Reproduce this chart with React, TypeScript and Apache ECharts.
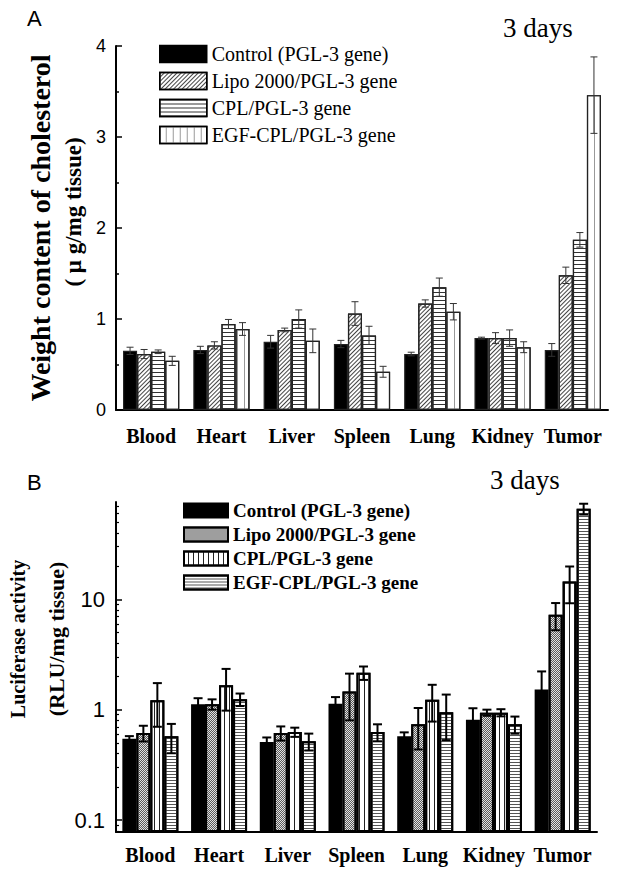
import React, { useEffect, useRef } from 'react';
import * as echarts from 'echarts';

// ---------- data ----------
const categories = ['Blood', 'Heart', 'Liver', 'Spleen', 'Lung', 'Kidney', 'Tumor'];
const groupNames = ['Control (PGL-3 gene)', 'Lipo 2000/PGL-3 gene', 'CPL/PGL-3 gene', 'EGF-CPL/PGL-3 gene'];

// Panel A: weight content of cholesterol (μg/mg tissue)
const cholControl = [0.65, 0.66, 0.75, 0.725, 0.615, 0.79, 0.66];
const cholControlErr = [0.04, 0.04, 0.07, 0.04, 0.02, 0.01, 0.07];
const cholLipo = [0.615, 0.71, 0.88, 1.06, 1.17, 0.79, 1.48];
const cholLipoErr = [0.05, 0.04, 0.02, 0.13, 0.04, 0.06, 0.09];
const cholCPL = [0.64, 0.945, 1.0, 0.82, 1.35, 0.79, 1.87];
const cholCPLErr = [0.02, 0.05, 0.1, 0.1, 0.1, 0.09, 0.08];
const cholEGF = [0.54, 0.89, 0.76, 0.42, 1.08, 0.69, 3.46];
const cholEGFErr = [0.05, 0.07, 0.13, 0.06, 0.09, 0.06, 0.42];

// Panel B: luciferase activity (RLU/mg tissue)
const lucControl = [0.546, 1.12, 0.51, 1.13, 0.573, 0.81, 1.52];
const lucControlErr = [0.03, 0.15, 0.05, 0.17, 0.05, 0.22, 0.7];
const lucLipo = [0.615, 1.12, 0.615, 1.46, 0.736, 0.94, 7.24];
const lucLipoErr = [0.1, 0.12, 0.09, 0.66, 0.3, 0.06, 2.0];
const lucCPL = [1.22, 1.66, 0.627, 2.16, 1.23, 0.94, 14.5];
const lucCPLErr = [0.52, 0.68, 0.06, 0.3, 0.45, 0.07, 5.3];
const lucEGF = [0.573, 1.24, 0.517, 0.627, 0.95, 0.736, 65.9];
const lucEGFErr = [0.17, 0.16, 0.09, 0.11, 0.42, 0.13, 7.4];

const yTicksA = [0, 1, 2, 3, 4];
const yLabelsB = [0.1, 1, 10];
const yMinorTicksB = [0.08, 0.09, 0.2, 0.3, 0.4, 0.5, 0.6, 0.7, 0.8, 0.9, 2, 3, 4, 5, 6, 7, 8, 9, 20, 30, 40, 50, 60, 70];

const SERIF = '"Liberation Serif", "Times New Roman", serif';
const SANS = '"Liberation Sans", Arial, sans-serif';

// ---------- helpers ----------
function errSeries(s: number, vals: number[], errs: number[], gapFrac: number, color: string, lw: number, capW: number) {
  return {
    type: 'custom',
    name: 'err' + s,
    silent: true,
    z: 10,
    data: vals.map((v, i) => [i, v, v - errs[i], v + errs[i]]),
    encode: { x: 0, y: [1, 2, 3] },
    renderItem: (params: any, api: any) => {
      const i = api.value(0);
      const c0 = api.coord([0, api.value(1)]);
      const c1 = api.coord([1, api.value(1)]);
      const band = c1[0] - c0[0];
      const c = api.coord([i, api.value(1)]);
      const groupW = band * (1 - gapFrac);
      const bw = groupW / 4;
      const x = c[0] - groupW / 2 + bw * (s + 0.5);
      const top = api.coord([i, api.value(3)])[1];
      const bot = api.coord([i, api.value(2)])[1];
      const st = { stroke: color, lineWidth: lw };
      return {
        type: 'group',
        children: [
          { type: 'line', shape: { x1: x, y1: top, x2: x, y2: bot }, style: st },
          { type: 'line', shape: { x1: x - capW / 2, y1: top, x2: x + capW / 2, y2: top }, style: st },
          { type: 'line', shape: { x1: x - capW / 2, y1: bot, x2: x + capW / 2, y2: bot }, style: st },
        ],
      };
    },
  };
}

const stylesA: any[] = [
  { color: '#000' },
  { color: '#fff', decal: { symbol: 'rect', symbolSize: 1, color: '#444', dashArrayX: [1, 0], dashArrayY: [1, 2], rotation: -Math.PI / 4 } },
  { color: '#fff', decal: { symbol: 'rect', symbolSize: 1, color: '#333', dashArrayX: [1, 0], dashArrayY: [1, 3], rotation: 0 } },
  { color: '#fff', decal: { symbol: 'rect', symbolSize: 1, color: '#999', dashArrayX: [1, 0], dashArrayY: [1, 6], rotation: Math.PI / 2 } },
];

const stylesB: any[] = [
  { color: '#000' },
  { color: '#e2e2e2', decal: { symbol: 'rect', symbolSize: 1, color: '#5a5a5a', dashArrayX: [[1, 1], [0, 1, 1, 0]], dashArrayY: [1, 0], rotation: 0 } },
  { color: '#fff', decal: { symbol: 'rect', symbolSize: 1, color: '#222', dashArrayX: [1, 0], dashArrayY: [1, 4], rotation: Math.PI / 2 } },
  { color: '#fff', decal: { symbol: 'rect', symbolSize: 1, color: '#555', dashArrayX: [1, 0], dashArrayY: [1, 2], rotation: 0 } },
];

function buildA(): any {
  const vals = [cholControl, cholLipo, cholCPL, cholEGF];
  const errs = [cholControlErr, cholLipoErr, cholCPLErr, cholEGFErr];
  const gap = 0.2;
  return {
    animation: false,
    aria: { enabled: false },
    grid: { left: 116, top: 46, width: 492, height: 364 },
    legend: {
      data: groupNames,
      orient: 'vertical',
      left: 159,
      top: 44,
      padding: 0,
      itemWidth: 47,
      itemHeight: 17,
      itemGap: 7,
      icon: 'rect',
      selectedMode: false,
      itemStyle: { borderColor: '#000', borderWidth: 1.5 },
      textStyle: { fontFamily: SERIF, fontSize: 20, color: '#000' },
    },
    xAxis: {
      type: 'category',
      data: categories,
      axisLine: { show: true, lineStyle: { color: '#000', width: 2 } },
      axisTick: { show: false },
      axisLabel: { interval: 0, margin: 16, fontFamily: SERIF, fontWeight: 'bold', fontSize: 20, color: '#000' },
    },
    yAxis: {
      type: 'value',
      min: yTicksA[0],
      max: yTicksA[yTicksA.length - 1],
      interval: 1,
      axisLine: { show: true, lineStyle: { color: '#000', width: 2 } },
      axisTick: { show: true, inside: true, length: 6, lineStyle: { color: '#000', width: 1.5 } },
      minorTick: { show: true, splitNumber: 2, length: 3, lineStyle: { color: '#000', width: 1.5 } },
      splitLine: { show: false },
      axisLabel: { margin: 10, fontFamily: SANS, fontSize: 18, color: '#000' },
    },
    series: [
      ...vals.map((v, s) => ({
        type: 'bar',
        name: groupNames[s],
        data: v,
        barGap: '0%',
        barCategoryGap: gap * 100 + '%',
        silent: true,
        itemStyle: { ...stylesA[s], borderColor: '#222', borderWidth: 1.2 },
      })),
      ...vals.map((v, s) => errSeries(s, v, errs[s], gap, '#333', 1, 7)),
    ],
    graphic: [
      { type: 'text', left: 27, top: 7, style: { text: 'A', fontFamily: SANS, fontSize: 22, fill: '#000' } },
      { type: 'text', x: 503, y: 28, style: { text: '3 days', fontFamily: SERIF, fontSize: 27, fill: '#000', align: 'left', verticalAlign: 'middle' } },
      { type: 'text', x: 40, y: 228, rotation: Math.PI / 2, style: { text: 'Weight content of cholesterol', fontFamily: SERIF, fontWeight: 'bold', fontSize: 28, fill: '#000', align: 'center', verticalAlign: 'middle' } },
      { type: 'text', x: 73, y: 212, rotation: Math.PI / 2, style: { text: '( μ g/mg tissue)', fontFamily: SERIF, fontWeight: 'bold', fontSize: 23, fill: '#000', align: 'center', verticalAlign: 'middle' } },
    ],
  };
}

function buildB(): any {
  const vals = [lucControl, lucLipo, lucCPL, lucEGF];
  const errs = [lucControlErr, lucLipoErr, lucCPLErr, lucEGFErr];
  const gap = 0.185;
  const yMin = 0.078;
  const yMax = 76;
  return {
    animation: false,
    aria: { enabled: false },
    grid: { left: 116, top: 46, width: 481, height: 330 },
    legend: {
      data: groupNames,
      orient: 'vertical',
      left: 183,
      top: 45,
      padding: 0,
      itemWidth: 44,
      itemHeight: 14,
      itemGap: 5,
      icon: 'rect',
      selectedMode: false,
      itemStyle: { borderColor: '#000', borderWidth: 2 },
      textStyle: { fontFamily: SERIF, fontWeight: 'bold', fontSize: 19, color: '#000' },
    },
    xAxis: {
      type: 'category',
      data: categories,
      axisLine: { show: true, lineStyle: { color: '#000', width: 2 } },
      axisTick: { show: false },
      axisLabel: { interval: 0, margin: 13, fontFamily: SERIF, fontWeight: 'bold', fontSize: 20, color: '#000' },
    },
    yAxis: [
      {
        type: 'log',
        logBase: 10,
        min: yMin,
        max: yMax,
        startValue: yMin,
        position: 'left',
        axisLine: { show: true, lineStyle: { color: '#000', width: 2 } },
        axisTick: { show: true, inside: true, length: 6, customValues: yLabelsB, lineStyle: { color: '#000', width: 1.5 } },
        splitLine: { show: false },
        axisLabel: {
          customValues: yLabelsB,
          margin: 11,
          fontFamily: SANS,
          fontSize: 22,
          color: '#000',
          formatter: (v: number) => String(v),
        },
      },
      {
        type: 'log',
        logBase: 10,
        min: yMin,
        max: yMax,
        position: 'left',
        axisLine: { show: false },
        axisTick: { show: true, inside: true, length: 3, customValues: yMinorTicksB, lineStyle: { color: '#000', width: 1.2 } },
        axisLabel: { show: false },
        splitLine: { show: false },
      },
    ],
    series: [
      ...vals.map((v, s) => ({
        type: 'bar',
        name: groupNames[s],
        data: v,
        barGap: '0%',
        barCategoryGap: gap * 100 + '%',
        silent: true,
        itemStyle: { ...stylesB[s], borderColor: '#000', borderWidth: 2 },
      })),
      ...vals.map((v, s) => errSeries(s, v, errs[s], gap, '#000', 2, 9)),
    ],
    graphic: [
      { type: 'text', left: 27, top: 15, style: { text: 'B', fontFamily: SANS, fontSize: 22, fill: '#000' } },
      { type: 'text', x: 490, y: 24, style: { text: '3 days', fontFamily: SERIF, fontSize: 27, fill: '#000', align: 'left', verticalAlign: 'middle' } },
      { type: 'text', x: 18, y: 183, rotation: Math.PI / 2, style: { text: 'Luciferase activity', fontFamily: SERIF, fontWeight: 'bold', fontSize: 20, fill: '#000', align: 'center', verticalAlign: 'middle' } },
      { type: 'text', x: 56, y: 183, rotation: Math.PI / 2, style: { text: '(RLU/mg tissue)', fontFamily: SERIF, fontWeight: 'bold', fontSize: 22, fill: '#000', align: 'center', verticalAlign: 'middle' } },
    ],
  };
}

export default function App() {
  const refA = useRef<HTMLDivElement>(null);
  const refB = useRef<HTMLDivElement>(null);
  useEffect(() => {
    const a = echarts.init(refA.current as HTMLDivElement, null, { renderer: 'svg' });
    a.setOption(buildA());
    const b = echarts.init(refB.current as HTMLDivElement, null, { renderer: 'svg' });
    b.setOption(buildB());
    return () => {
      a.dispose();
      b.dispose();
    };
  }, []);
  return (
    <div style={{ position: 'fixed', left: 0, top: 0, width: 617, height: 873, background: '#fff' }}>
      <div ref={refA} style={{ position: 'absolute', left: 0, top: 0, width: 617, height: 456 }} />
      <div ref={refB} style={{ position: 'absolute', left: 0, top: 456, width: 617, height: 417 }} />
    </div>
  );
}
